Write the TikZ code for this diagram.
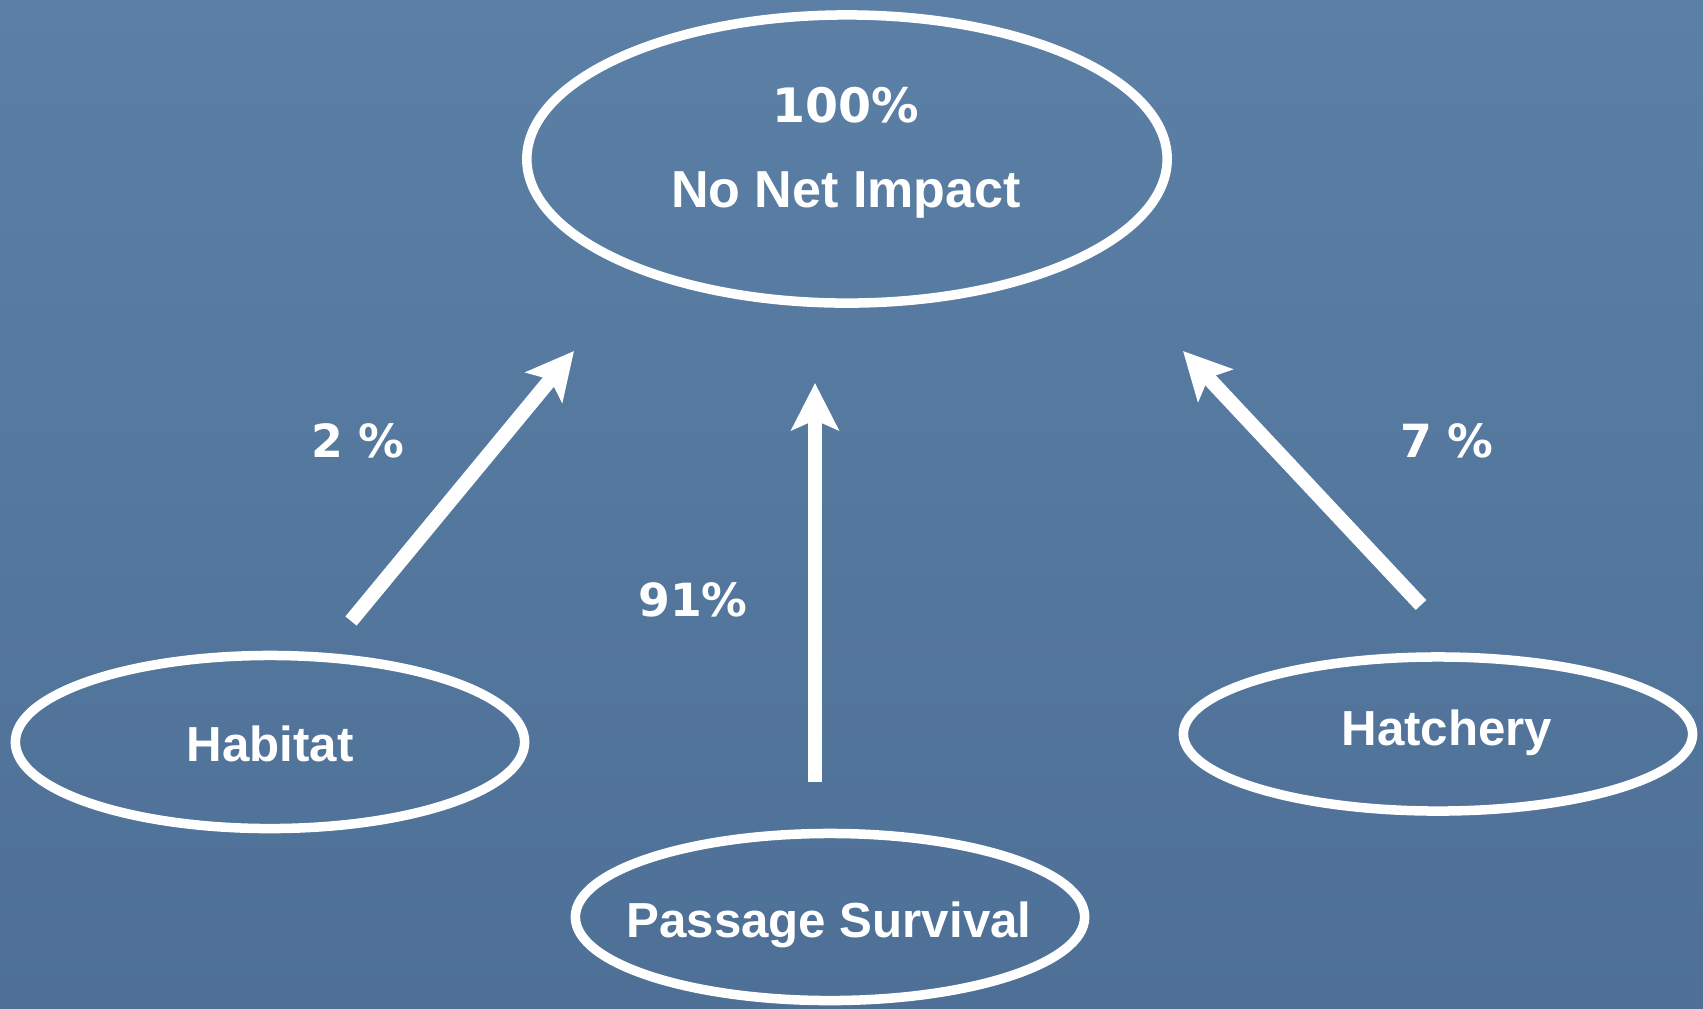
\documentclass[tikz,border=0pt]{standalone}
\usepackage{fontspec}
\setmainfont{Liberation Sans}
\newfontfamily\pctfont{DejaVu Sans}
\usetikzlibrary{shapes.geometric,arrows.meta}
\definecolor{seatop}{RGB}{91,127,165}
\definecolor{seabot}{RGB}{78,112,150}

\begin{document}
\begin{tikzpicture}[x=0.01cm,y=-0.01cm,
                oval/.style={ellipse,draw=white,line width=0.095cm,inner sep=0pt},
                word/.style={text=white,font=\fontsize{14}{16}\selectfont\bfseries,anchor=base},
                share/.style={text=white,font=\pctfont\fontsize{13}{15}\selectfont\bfseries,anchor=base},
                push/.style={draw=white,line width=0.145cm,-{Stealth[length=0.47cm,width=0.47cm,inset=0.1cm]}}
            ]
                \fill[top color=seatop,bottom color=seabot] (0,0) rectangle (1703,1008);
                % ellipses
                \node[oval,minimum width=6.40cm,minimum height=2.88cm] (goal) at (847,159) { };
                \node[oval,minimum width=5.09cm,minimum height=1.73cm] (hab) at (270,742) { };
                \node[oval,minimum width=5.09cm,minimum height=1.67cm] (pass) at (830,917) { };
                \node[oval,minimum width=5.09cm,minimum height=1.54cm] (hatch) at (1438,734) { };
                % texts
                \node[share,font=\pctfont\fontsize{13.5}{15}\selectfont\bfseries] (goalpct) at (846,122) {100\%};
                \node[word,font=\fontsize{14.8}{16}\selectfont\bfseries] (goalname) at (846,207) {No Net Impact};
                \node[word] (habname) at (270,761) {Habitat};
                \node[word] (passname) at (829,937) {Passage Survival};
                \node[word] (hatchname) at (1447,745) {Hatchery};
                \node[share] (habpct) at (358,457) {2 \%};
                \node[share] (passpct) at (693,616) {91\%};
                \node[share] (hatchpct) at (1447,457) {7 \%};
                % arrows
                \coordinate (habtail) at (351,621);
                \coordinate (habtip) at (574,351);
                \coordinate (passtail) at (815,782);
                \coordinate (passtip) at (815,383);
                \coordinate (hatchtail) at (1421,605);
                \coordinate (hatchtip) at (1183,351);
                \draw[push] (habtail) -- (habtip);
                \draw[push] (passtail) -- (passtip);
                \draw[push] (hatchtail) -- (hatchtip);
            \end{tikzpicture}
\end{document}
